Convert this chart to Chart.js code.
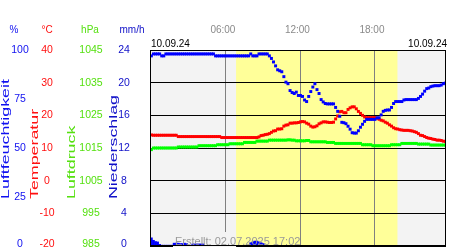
<!DOCTYPE html>
<html>
<head>
<meta charset="utf-8">
<script src="https://cdn.jsdelivr.net/npm/chart.js@4.4.1/dist/chart.umd.min.js"></script>
<style>
  html, body { margin: 0; padding: 0; background: #fff; }
  canvas { display: block; }
</style>
</head>
<body>
<canvas id="wetter" width="450" height="250"></canvas>
<script>
// Messwerte alle 10 Minuten ab 00:00 (eine Zeile = eine Stunde)
const feuchte = [
  97, 98, 98, 98, 98, 97,
  97, 98, 98, 98, 98, 98,
  98, 98, 98, 98, 98, 98,
  98, 98, 98, 98, 98, 98,
  98, 98, 98, 98, 98, 98,
  98, 97, 97, 97, 97, 97,
  97, 97, 97, 97, 97, 97,
  97, 97, 97, 97, 97, 97,
  98, 97, 97, 97, 98, 98,
  98, 98, 98, 97, 95.7, 93.9,
  91.9, 89.9, 89.4, 88.9, 86.4, 83.6,
  82.8, 79.3, 78.3, 77.8, 78.5, 76.8,
  76.8, 76.3, 74.5, 73.7, 76.3, 78.8,
  81.1, 82.8, 79.8, 77.8, 74.7, 73.5,
  72.7, 72.5, 72.5, 72.5, 72.5, 70.7,
  68.7, 66.2, 63.1, 62.9, 62.4, 61.1,
  59.6, 57.8, 57.6, 57.6, 58.8, 60.6,
  62.1, 63.6, 64.6, 64.6, 64.6, 64.6,
  64.6, 65.4, 65.4, 66.9, 68.7, 69.2,
  69.4, 69.4, 70.7, 72.7, 73.7, 73.7,
  73.7, 73.7, 74.5, 74.7, 74.7, 74.7,
  74.7, 74.7, 74.7, 75.3, 76.3, 77.5,
  79, 80.3, 80.6, 81.3, 81.6, 81.8,
  81.8, 81.8, 82.1, 82.8, 83.1
];
const temperatur = [
  14.0, 13.9, 13.9, 13.9, 13.9, 13.9,
  13.9, 13.9, 13.9, 13.9, 13.9, 13.9,
  13.9, 13.5, 13.5, 13.5, 13.5, 13.5,
  13.5, 13.5, 13.5, 13.5, 13.5, 13.5,
  13.5, 13.5, 13.5, 13.5, 13.5, 13.5,
  13.5, 13.5, 13.5, 13.5, 13.2, 13.2,
  13.2, 13.2, 13.2, 13.2, 13.2, 13.2,
  13.2, 13.2, 13.2, 13.2, 13.2, 13.2,
  13.2, 13.2, 13.2, 13.2, 13.4, 13.8,
  13.9, 14.1, 14.2, 14.4, 14.8, 15.2,
  15.3, 15.8, 15.8, 15.9, 16.7, 17.0,
  17.1, 17.6, 17.6, 17.7, 17.7, 17.8,
  18.0, 18.1, 18.0, 17.6, 17.3, 16.7,
  16.4, 16.5, 16.8, 17.4, 17.7, 18.0,
  18.0, 17.9, 17.8, 17.8, 17.9, 18.9,
  19.8, 21.1, 21.2, 20.8, 20.8, 21.8,
  22.3, 22.6, 22.6, 22.0, 21.2, 20.6,
  20.0, 19.5, 19.3, 19.3, 19.3, 19.3,
  19.3, 19.1, 18.8, 18.5, 18.3, 17.9,
  17.6, 17.1, 16.7, 16.2, 15.9, 15.8,
  15.6, 15.5, 15.4, 15.4, 15.4, 15.3,
  15.2, 15.0, 14.8, 14.4, 13.9, 13.8,
  13.5, 13.2, 13.0, 12.9, 12.7, 12.6,
  12.4, 12.4, 12.3, 12.1, 12.0
];
const luftdruck = [
  1014.5, 1015.0, 1015.0, 1015.0, 1015.0, 1015.0,
  1015.0, 1015.0, 1015.0, 1015.0, 1015.0, 1015.0,
  1015.0, 1015.3, 1015.3, 1015.3, 1015.3, 1015.3,
  1015.3, 1015.3, 1015.3, 1015.3, 1015.3, 1015.7,
  1015.7, 1015.7, 1015.7, 1015.7, 1015.7, 1015.7,
  1015.7, 1015.7, 1016.0, 1016.0, 1016.0, 1016.0,
  1016.0, 1016.0, 1016.3, 1016.3, 1016.3, 1016.3,
  1016.3, 1016.3, 1016.3, 1016.7, 1016.7, 1016.7,
  1016.7, 1016.7, 1016.7, 1017.1, 1017.1, 1017.1,
  1017.1, 1017.1, 1017.1, 1017.4, 1017.4, 1017.4,
  1017.4, 1017.4, 1017.4, 1017.4, 1017.4, 1017.4,
  1017.5, 1017.5, 1017.4, 1017.4, 1017.2, 1017.2,
  1017.2, 1017.2, 1017.2, 1017.3, 1017.3, 1016.9,
  1016.9, 1016.9, 1016.9, 1016.9, 1016.9, 1016.9,
  1016.9, 1016.7, 1016.7, 1016.7, 1016.7, 1016.4,
  1016.4, 1016.4, 1016.4, 1016.4, 1016.4, 1016.4,
  1016.4, 1016.4, 1016.4, 1016.4, 1016.4, 1016.4,
  1016.0, 1016.0, 1016.0, 1016.0, 1016.0, 1015.7,
  1015.7, 1015.7, 1015.7, 1015.7, 1015.7, 1015.7,
  1015.7, 1015.7, 1016.0, 1016.0, 1016.0, 1016.0,
  1016.0, 1016.4, 1016.4, 1016.4, 1016.4, 1016.4,
  1016.4, 1016.4, 1016.4, 1016.2, 1016.2, 1016.2,
  1016.2, 1016.2, 1016.2, 1015.9, 1015.9, 1015.9,
  1015.9, 1015.9, 1015.9, 1015.9, 1015.9
];
const niederschlag = [
  1.0, 0.7, 0.55, 0.5, 0.2, 0.1,
  0.1, 0.1, 0.1, 0.1, 0.1, 0.35,
  0.35, 0.35, 0.3, 0.3, 0.35, 0.3,
  0, 0, 0.25, 0.25, 0.25, 0.25,
  0.25, 0.25, 0, 0, 0, 0,
  0, 0, 0, 0, 0, 0,
  0, 0, 0, 0, 0, 0,
  0, 0, 0, 0, 0, 0,
  0.4, 0.5, 0.6, 0.6, 0.5, 0.4,
  0.3, 0, 0, 0, 0, 0,
  0, 0, 0, 0, 0, 0,
  0, 0, 0, 0, 0, 0,
  0, 0, 0, 0, 0, 0,
  0, 0, 0, 0, 0, 0,
  0, 0, 0, 0, 0, 0,
  0, 0, 0, 0, 0, 0,
  0, 0, 0, 0, 0, 0,
  0, 0, 0, 0, 0, 0,
  0, 0, 0, 0, 0, 0,
  0, 0, 0, 0, 0, 0,
  0, 0, 0, 0, 0, 0,
  0, 0, 0, 0, 0, 0,
  0, 0, 0, 0, 0, 0,
  0, 0, 0, 0, 0
];

// Achsenbeschriftungen
const feuchteTicks = [0, 25, 50, 75, 100];
const tempTicks = [-20, -10, 0, 10, 20, 30, 40];
const druckTicks = [985, 995, 1005, 1015, 1025, 1035, 1045];
const regenTicks = [0, 4, 8, 12, 16, 20, 24];
const zeitTicks = [6, 12, 18];
const zeitLabels = ["06:00", "12:00", "18:00"];
const datum = "10.09.24";
const erstellt = "Erstellt: 02.07.2025 17:02";
// Tageslicht (Stunden)
const hellVon = 6.82;
const hellBis = 19.81;

const stunden = feuchte.map((_, i) => i / 6);
const punkte = werte => werte.map((v, i) => ({ x: stunden[i], y: v }));

const FONT = '"Liberation Sans", Arial, sans-serif';

const beschriftung = {
    id: "beschriftung",
    beforeDraw(chart) {
        const { ctx, chartArea: a, scales } = chart;
        ctx.save();
        ctx.fillStyle = "#fff";
        ctx.fillRect(0, 0, chart.width, chart.height);
        ctx.fillStyle = "#f3f3f3";
        ctx.fillRect(a.left, a.top, a.right - a.left, a.bottom - a.top);
        const x1 = scales.x.getPixelForValue(hellVon);
        const x2 = scales.x.getPixelForValue(hellBis);
        ctx.fillStyle = "#ffff99";
        ctx.fillRect(x1, a.top, x2 - x1, a.bottom - a.top);
        ctx.restore();
    },
    beforeDatasetsDraw(chart) {
        // Hintergrund hinter dem Erstellt-Text
        const { ctx, scales } = chart;
        ctx.save();
        ctx.fillStyle = "#f3f3f3";
        ctx.fillRect(173, 232, scales.x.getPixelForValue(hellVon) - 173, 15);
        ctx.restore();
    },
    afterDraw(chart) {
        const { ctx, chartArea: a, scales } = chart;
        ctx.save();

        // Rahmen
        ctx.strokeStyle = "#000";
        ctx.lineWidth = 1;
        ctx.strokeRect(a.left + 0.5, a.top + 0.5, a.right - a.left - 1, a.bottom - a.top - 1);

        // Uhrzeiten oben
        ctx.font = "10px " + FONT;
        ctx.fillStyle = "#8a8a8a";
        ctx.textAlign = "center";
        ctx.textBaseline = "middle";
        zeitTicks.forEach((t, i) => {
            ctx.fillText(zeitLabels[i], scales.x.getPixelForValue(t) - 3, 30);
        });

        // Datum
        ctx.fillStyle = "#000";
        ctx.textAlign = "left";
        ctx.fillText(datum, 151, 44);
        ctx.textAlign = "right";
        ctx.fillText(datum, 447, 44);

        // Spalten links
        const spalten = [
            { id: "yH", ticks: feuchteTicks, x: 20, farbe: "#1010f0", kopf: "%", kx: 14, titel: "Luftfeuchtigkeit", tx: 6 },
            { id: "yT", ticks: tempTicks, x: 47, farbe: "#ff1010", kopf: "°C", kx: 47, titel: "Temperatur", tx: 35 },
            { id: "yP", ticks: druckTicks, x: 91, farbe: "#55e010", kopf: "hPa", kx: 90, titel: "Luftdruck", tx: 72 },
            { id: "yR", ticks: regenTicks, x: 124, farbe: "#1010c8", kopf: "mm/h", kx: 132, titel: "Niederschlag", tx: 113.5 }
        ];
        spalten.forEach(s => {
            const skala = scales[s.id];
            ctx.fillStyle = s.farbe;
            ctx.textAlign = "center";
            ctx.textBaseline = "middle";
            ctx.font = "10px " + FONT;
            ctx.fillText(s.kopf, s.kx, 30);
            ctx.font = "10.5px " + FONT;
            s.ticks.forEach(v => {
                const y = Math.min(244, skala.getPixelForValue(v));
                ctx.fillText(String(v), s.x, y);
            });
            // gedrehter Titel, unten ausgerichtet
            ctx.save();
            ctx.translate(s.tx, 199);
            ctx.rotate(-Math.PI / 2);
            ctx.scale(1.62, 1);
            ctx.font = "11px " + FONT;
            ctx.textAlign = "left";
            ctx.fillText(s.titel, 0, 0);
            ctx.restore();
        });

        // Erstellt
        ctx.font = "11px " + FONT;
        ctx.fillStyle = "#999";
        ctx.textAlign = "left";
        ctx.textBaseline = "alphabetic";
        ctx.fillText(erstellt, 175, 245);

        ctx.restore();
    }
};

const punktStil = farbe => ({
    type: "line",
    showLine: false,
    pointStyle: "rect",
    pointRadius: 2.1,
    pointBorderWidth: 0,
    pointBackgroundColor: farbe,
    borderColor: farbe
});

new Chart(document.getElementById("wetter").getContext("2d"), {
    type: "line",
    data: {
        datasets: [
            { ...punktStil("#0000ff"), label: "Luftfeuchtigkeit", data: punkte(feuchte), yAxisID: "yH" },
            { ...punktStil("#ff0000"), label: "Temperatur", data: punkte(temperatur), yAxisID: "yT" },
            { ...punktStil("#00ff00"), label: "Luftdruck", data: punkte(luftdruck), yAxisID: "yP" },
            {
                type: "bar",
                label: "Niederschlag",
                data: punkte(niederschlag),
                yAxisID: "yR",
                backgroundColor: "#0000ff",
                borderWidth: 0,
                barPercentage: 1,
                categoryPercentage: 1,
                grouped: false
            }
        ]
    },
    options: {
        responsive: false,
        devicePixelRatio: 1,
        animation: false,
        events: [],
        layout: { padding: { left: 150, top: 50, right: 1, bottom: 2 } },
        plugins: { legend: { display: false }, tooltip: { enabled: false } },
        scales: {
            x: {
                type: "linear",
                min: -0.11,
                max: 23.72,
                offset: false,
                afterBuildTicks: s => { s.ticks = zeitTicks.map(v => ({ value: v })); },
                ticks: { display: false },
                grid: { color: "#808080", drawTicks: false, offset: false },
                border: { display: false }
            },
            yT: {
                position: "left",
                min: -20,
                max: 40,
                afterBuildTicks: s => { s.ticks = tempTicks.map(v => ({ value: v })); },
                ticks: { display: false },
                grid: { color: "#000", drawTicks: false },
                border: { display: false }
            },
            yH: { display: false, min: 0, max: 100 },
            yP: { display: false, min: 985, max: 1045 },
            yR: { display: false, min: 0, max: 24 }
        }
    },
    plugins: [beschriftung]
});
</script>
</body>
</html>
